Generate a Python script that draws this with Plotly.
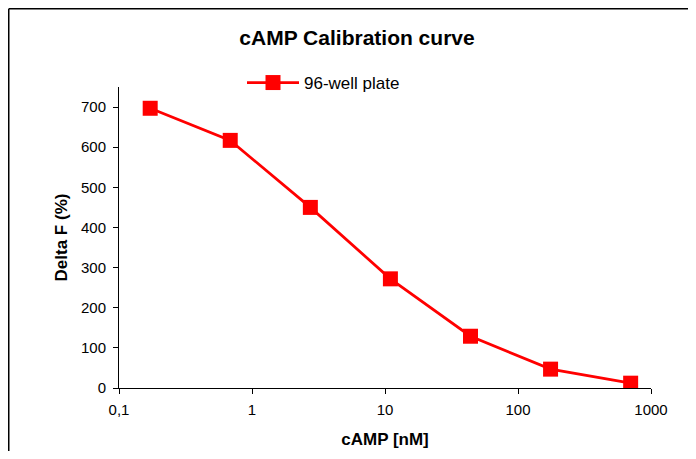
import plotly.graph_objects as go

camp_nM = [0.1716, 0.686, 2.746, 10.98, 43.94, 175.75, 703]
delta_f = [697, 617, 450, 272, 129, 47, 12]
series_name = "96-well plate"
x_tickvals = [0.1, 1, 10, 100, 1000]
x_ticktext = ["0,1", "1", "10", "100", "1000"]
y_tickvals = [0, 100, 200, 300, 400, 500, 600, 700]

FONT = "Liberation Sans, Arial, sans-serif"
W, H = 680, 443
L, T = 111, 79
pw, ph = 532, 301
R, B = W - L - pw, H - T - ph

fig = go.Figure()
fig.add_trace(go.Scatter(
    x=camp_nM, y=delta_f, mode="lines+markers", name=series_name,
    line=dict(color="#ff0000", width=2.75),
    marker=dict(symbol="square", size=15, color="#ff0000"),
))

fig.update_layout(
    width=W, height=H,
    margin=dict(l=L, r=R, t=T, b=B, autoexpand=False),
    paper_bgcolor="white", plot_bgcolor="white",
    font=dict(family=FONT, size=15, color="black"),
    title=dict(text="<b>cAMP Calibration curve</b>", x=349 / W, xanchor="center",
               y=1 - 30 / H, yanchor="middle", font=dict(size=21, family=FONT)),
    showlegend=True,
    legend=dict(x=(234 - L) / pw, y=(T + ph - 75) / ph, xanchor="left", yanchor="middle",
                itemwidth=52,
                bgcolor="rgba(0,0,0,0)", font=dict(size=17, family=FONT)),
    xaxis=dict(type="log", range=[-1, 3], tickvals=x_tickvals, ticktext=x_ticktext,
               showgrid=False, zeroline=False, showline=True, linecolor="black", linewidth=1,
               ticks="outside", ticklen=5, tickcolor="black", tickfont=dict(size=15),
               ticklabelstandoff=3, automargin=False,
               title=dict(text="<b>cAMP [nM]</b>", font=dict(size=17, family=FONT), standoff=16)),
    yaxis=dict(range=[0, 750], tickvals=y_tickvals, showgrid=False, zeroline=False,
               showline=True, linecolor="black", linewidth=1,
               ticks="outside", ticklen=5, tickcolor="black", tickfont=dict(size=15),
               ticklabelstandoff=4, automargin=False,
               title=dict(text="<b>Delta F (%)</b>", font=dict(size=17, family=FONT), standoff=9)),
)

# outer chart frame (left and top edges visible)
x0 = (0.75 - L) / pw
y0 = (T + ph - 0.75) / ph
fig.add_shape(type="line", xref="paper", yref="paper", x0=x0, x1=x0, y0=y0, y1=-1,
              line=dict(color="black", width=1.5))
fig.add_shape(type="line", xref="paper", yref="paper", x0=x0, x1=2, y0=y0, y1=y0,
              line=dict(color="black", width=1.5))

fig.write_html("out.html")
